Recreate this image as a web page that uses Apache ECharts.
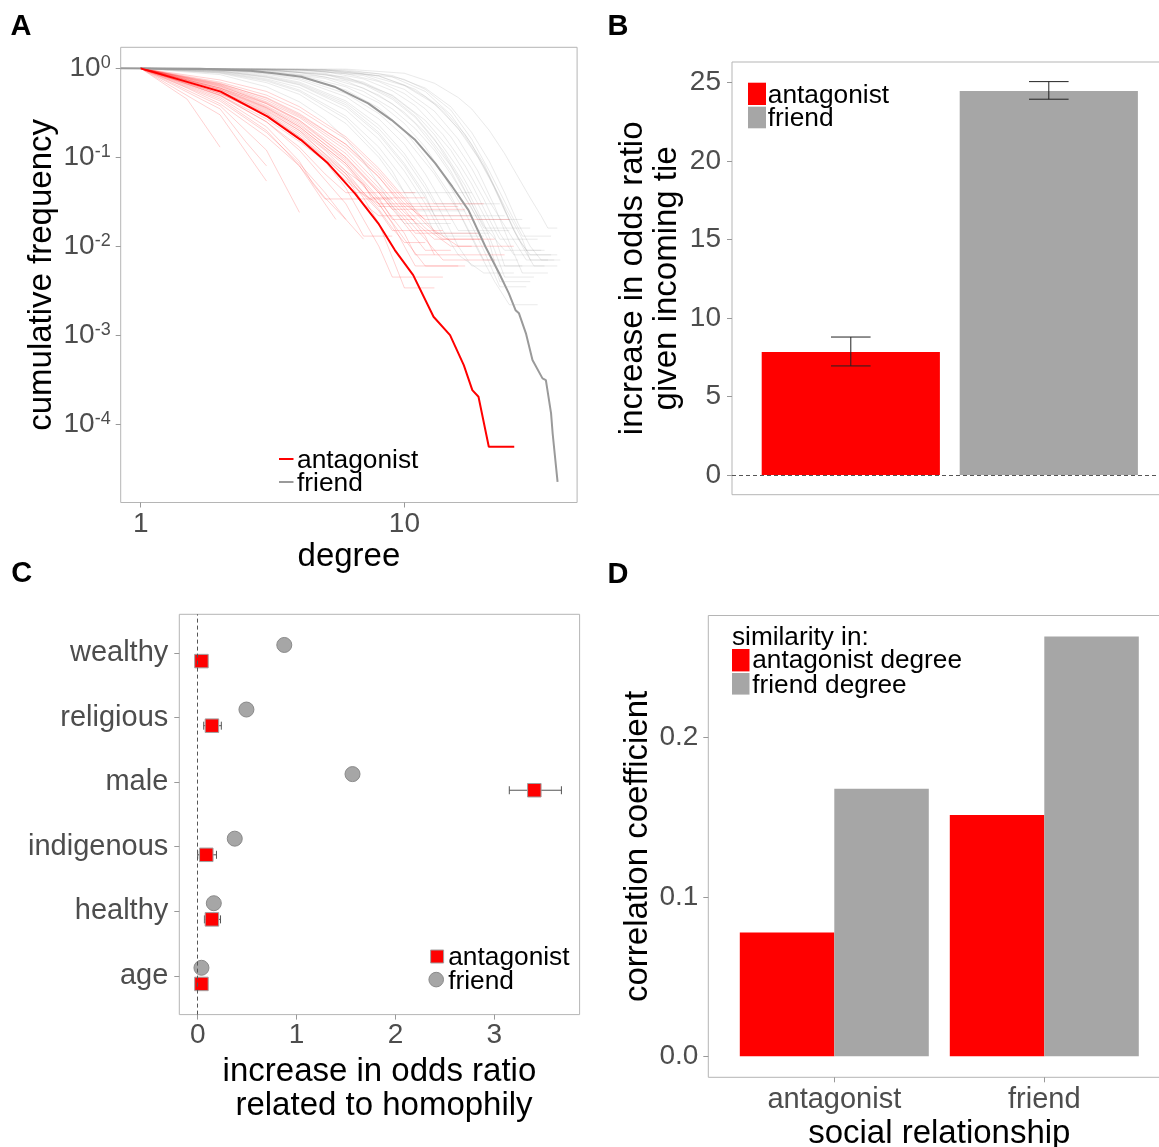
<!DOCTYPE html>
<html>
<head>
<meta charset="utf-8">
<script src="https://cdn.jsdelivr.net/npm/echarts@6/dist/echarts.min.js"></script>
<style>html,body{margin:0;padding:0;background:#fff}#c{width:1159px;height:1147px}</style>
</head>
<body>
<div id="c"></div>
<script>
// ---------- Panel A: cumulative degree distributions ----------
const aXTicks = [1, 10];
const aYTicks = [1, 0.1, 0.01, 0.001, 0.0001];
const antDegree   = [1, 2.01, 3.03, 4.06, 5.13, 6.49, 7.96, 9.2, 10.8, 12.9, 14.9, 16.8, 18.1, 19.1, 20.9, 26.1];
const antCumFreq  = [1, 0.547, 0.286, 0.156, 0.0855, 0.0393, 0.0181, 0.00906, 0.00474, 0.00161, 0.001, 0.000461, 0.000241, 0.000203, 0.0000556, 0.0000556];
const friendDegree  = [0.84, 1.68, 2.61, 3.21, 4.06, 5.43, 7.29, 8.95, 11.0, 13.1, 15.2, 17.5, 20.3, 22.9, 24.9, 26.4, 27.2, 28.9, 30.6, 33.4, 34.4, 36.0, 36.5, 38.1];
const friendCumFreq = [1, 0.991, 0.942, 0.879, 0.805, 0.622, 0.404, 0.262, 0.156, 0.0855, 0.0467, 0.0255, 0.00986, 0.00494, 0.00295, 0.00191, 0.00176, 0.00105, 0.000525, 0.000327, 0.000313, 0.000132, 0.0000785, 0.0000224];
// per-village curves [degree, cumulative frequency]
const antVillageCurves = [
 [[1,1],[1.5,0.45],[2,0.13]],
 [[1,1],[2,0.3],[3,0.054]],
 [[1,1],[2,0.38],[3,0.12],[4,0.024]],
 [[1,1],[2,0.45],[3,0.2],[4,0.08],[5,0.03],[5.5,0.02]],
 [[1,1],[2,0.5],[3,0.25],[4,0.12],[6,0.03],[7,0.013],[9,0.013]],
 [[1,1],[2,0.52],[3,0.3],[4,0.17],[6,0.06],[8,0.025],[9,0.015],[14,0.015]],
 [[1,1],[2,0.58],[3,0.35],[4,0.21],[6,0.08],[8,0.03],[10,0.012],[12,0.006],[16,0.006]],
 [[1,1],[2,0.6],[3,0.4],[4,0.25],[6,0.1],[8,0.04],[10,0.018],[12,0.009],[15,0.009]],
 [[1,1],[2,0.65],[3,0.42],[4,0.28],[6,0.12],[8,0.05],[10,0.024],[13,0.012],[20,0.012]],
 [[1,1],[2,0.68],[3,0.46],[4,0.3],[6,0.14],[8,0.065],[10,0.03],[12,0.02],[25,0.02]],
 [[1,1],[2,0.55],[3,0.33],[4,0.2],[5,0.12],[6,0.07],[7,0.05],[7.5,0.035],[12,0.035]],
 [[1,1],[2,0.47],[3,0.22],[4,0.09],[4.5,0.05],[5,0.034],[9,0.034]],
 [[1,1],[2,0.62],[3,0.38],[4,0.24],[6,0.09],[8,0.035],[9,0.02],[11,0.02]],
 [[1,1],[2,0.56],[3,0.32],[4,0.19],[6,0.07],[7,0.04],[8,0.028],[16,0.028]],
 [[1,1],[2,0.6],[3,0.36],[4,0.22],[6,0.085],[8,0.033],[10,0.014],[11,0.008],[13,0.008]],
 [[1,1],[2,0.66],[3,0.44],[4,0.29],[6,0.13],[8,0.06],[10,0.028],[12,0.016],[15,0.01],[18,0.01]],
 [[1,1],[2,0.5],[3,0.27],[4,0.15],[5,0.09],[6,0.055],[7,0.038],[8,0.03],[20,0.03]],
 [[1,1],[2,0.63],[3,0.41],[4,0.26],[6,0.11],[8,0.045],[10,0.022],[12,0.012],[14,0.007],[22,0.007]],
 [[1,1],[2,0.52],[3,0.29],[4,0.16],[5,0.09],[6,0.045],[7,0.02],[8,0.01],[9,0.0045],[14,0.0045]],
 [[1,1],[1.5,0.6],[2,0.4],[3,0.17],[4,0.08],[5,0.035],[6,0.02]],
 [[1,1],[2,0.74],[3,0.55],[4,0.37],[6,0.17],[8,0.075],[10,0.035],[13,0.015],[16,0.01],[26,0.01]],
 [[1,1],[2,0.57],[3,0.34],[4,0.2],[6,0.065],[7,0.035],[8,0.018],[9,0.0075],[10,0.0034],[13,0.0034]],
 [[1,1],[2,0.6],[3,0.37],[4,0.23],[6,0.095],[8,0.04],[9,0.026],[17,0.026]],
 [[1,1],[2,0.53],[3,0.31],[4,0.18],[6,0.065],[8,0.026],[9,0.016],[10,0.011],[12,0.011]],
 [[1,1],[2,0.7],[3,0.5],[4,0.34],[6,0.16],[8,0.07],[10,0.033],[12,0.018],[14,0.012],[22,0.012]],
 [[1,1],[2,0.43],[3,0.19],[4,0.085],[5,0.04],[6,0.02],[7,0.012]],
 [[1,1],[2,0.64],[3,0.4],[4,0.26],[6,0.1],[8,0.042],[10,0.02],[11,0.014],[19,0.014]],
 [[1,1],[2,0.49],[3,0.25],[4,0.13],[5,0.065],[6,0.04],[11,0.04]],
 [[1,1],[2,0.58],[3,0.36],[4,0.22],[6,0.085],[8,0.03],[9,0.018],[10,0.01],[11,0.006],[17,0.006]],
 [[1,1],[2,0.35],[2.5,0.15],[3,0.08]],
 [[1,1],[2,0.67],[3,0.47],[4,0.31],[6,0.14],[8,0.06],[10,0.026],[12,0.013],[13,0.008],[24,0.008]],
 [[1,1],[2,0.55],[3,0.31],[4,0.17],[5,0.1],[6,0.06],[7,0.03],[8,0.022],[18,0.022]]
];
const friendVillageCurves = [
 [[1,1],[2,0.85],[3,0.62],[4,0.42],[5,0.27],[6,0.16],[7,0.09],[8,0.05],[9,0.028],[10,0.018],[15,0.018]],
 [[1,1],[2,0.9],[3,0.74],[4,0.57],[6,0.29],[8,0.13],[10,0.055],[12,0.024],[13,0.014],[21,0.014]],
 [[1,1],[2,0.94],[3,0.83],[4,0.7],[6,0.43],[8,0.23],[10,0.11],[12,0.05],[14,0.022],[16,0.01],[18,0.006],[28,0.006]],
 [[1,1],[2,0.97],[3,0.9],[4,0.8],[6,0.57],[8,0.36],[10,0.2],[12,0.1],[15,0.037],[18,0.013],[20,0.007],[27,0.007]],
 [[1,1],[3,0.95],[4,0.9],[6,0.72],[8,0.5],[10,0.32],[12,0.19],[15,0.08],[18,0.03],[20,0.017],[24,0.009],[33,0.009]],
 [[1,1],[3,0.98],[5,0.92],[7,0.76],[9,0.56],[11,0.38],[14,0.18],[17,0.08],[20,0.034],[23,0.014],[26,0.008],[36,0.008]],
 [[1,1],[4,0.98],[6,0.93],[8,0.82],[10,0.65],[12,0.48],[14,0.33],[17,0.17],[20,0.08],[24,0.028],[28,0.012],[30,0.007],[37,0.007]],
 [[1,1],[5,0.97],[8,0.87],[10,0.75],[12,0.58],[15,0.34],[18,0.16],[21,0.07],[25,0.025],[28,0.013],[36,0.013]],
 [[1,1],[2,0.92],[3,0.79],[4,0.65],[6,0.37],[8,0.18],[10,0.08],[12,0.035],[14,0.015],[16,0.008],[20,0.005],[26,0.005]],
 [[1,1],[2,0.96],[3,0.88],[4,0.77],[6,0.52],[8,0.31],[10,0.17],[13,0.065],[16,0.025],[19,0.009],[22,0.004],[25,0.0022],[32,0.0022]],
 [[1,1],[2,0.93],[3,0.81],[4,0.68],[6,0.41],[8,0.21],[10,0.1],[12,0.045],[13,0.03],[23,0.03]],
 [[1,1],[3,0.97],[5,0.88],[7,0.7],[9,0.49],[11,0.31],[13,0.18],[16,0.075],[19,0.03],[22,0.013],[24,0.006],[34,0.006]],
 [[1,1],[2,0.88],[3,0.69],[4,0.51],[6,0.24],[8,0.1],[10,0.04],[11,0.025],[17,0.025]],
 [[1,1],[3,0.93],[5,0.77],[7,0.55],[9,0.35],[11,0.21],[13,0.12],[15,0.065],[18,0.027],[21,0.011],[23,0.004],[30,0.004]],
 [[1,1],[4,0.96],[6,0.87],[8,0.71],[10,0.52],[12,0.35],[15,0.17],[18,0.075],[21,0.032],[25,0.014],[29,0.007],[35,0.007]],
 [[1,1],[2,0.91],[3,0.76],[4,0.61],[6,0.34],[8,0.16],[10,0.07],[12,0.03],[14,0.013],[20,0.013]],
 [[1,1],[6,0.98],[10,0.88],[13,0.68],[16,0.47],[18,0.35],[21,0.2],[24,0.11],[27,0.06],[30,0.035],[33,0.022],[35,0.016],[38,0.016]],
 [[1,1],[4,0.97],[7,0.86],[10,0.64],[13,0.4],[16,0.21],[19,0.1],[22,0.045],[25,0.02],[28,0.01],[31,0.006],[38,0.006]],
 [[1,1],[3,0.96],[5,0.85],[7,0.66],[9,0.45],[11,0.28],[14,0.12],[17,0.048],[20,0.018],[22,0.009],[24,0.0045],[31,0.0045]],
 [[1,1],[5,0.96],[9,0.8],[12,0.55],[15,0.3],[18,0.14],[21,0.06],[24,0.025],[27,0.012],[30,0.008],[38,0.008]],
 [[1,1],[2,0.95],[3,0.86],[4,0.74],[6,0.48],[8,0.27],[10,0.14],[12,0.065],[14,0.03],[16,0.015],[25,0.015]],
 [[1,1],[3,0.96],[5,0.86],[7,0.68],[9,0.47],[11,0.29],[13,0.16],[16,0.06],[18,0.03],[20,0.016],[30,0.016]],
 [[1,1],[2,0.89],[3,0.72],[4,0.55],[6,0.27],[8,0.11],[9,0.07],[10,0.04],[18,0.04]],
 [[1,1],[4,0.97],[7,0.83],[10,0.58],[13,0.33],[16,0.16],[19,0.07],[22,0.028],[25,0.011],[28,0.005],[35,0.005]],
 [[1,1],[3,0.94],[5,0.8],[7,0.6],[9,0.4],[11,0.24],[13,0.13],[15,0.07],[17,0.035],[19,0.02],[28,0.02]],
 [[1,1],[5,0.95],[8,0.82],[11,0.58],[14,0.35],[17,0.18],[20,0.085],[23,0.035],[26,0.015],[29,0.009],[34,0.009]],
 [[1,1],[2,0.93],[3,0.8],[4,0.66],[6,0.39],[8,0.19],[10,0.085],[12,0.038],[13,0.022],[24,0.022]],
 [[1,1],[6,0.96],[9,0.83],[12,0.6],[15,0.37],[18,0.19],[21,0.09],[24,0.04],[27,0.018],[30,0.01],[33,0.007],[39,0.007]],
 [[1,1],[2,0.97],[4,0.84],[6,0.62],[8,0.41],[10,0.24],[12,0.13],[14,0.065],[17,0.024],[20,0.009],[23,0.0035],[29,0.0035]],
 [[1,1],[3,0.97],[6,0.8],[9,0.5],[12,0.26],[15,0.12],[18,0.05],[21,0.02],[23,0.012],[32,0.012]]
];

// ---------- Panel B: incoming tie effect ----------
const tieCats = ['antagonist', 'friend'];
const tieOR   = [7.84, 24.47];
const tieLo   = [6.95, 23.94];
const tieHi   = [8.79, 25.06];
const bYTicks = [0, 5, 10, 15, 20, 25];

// ---------- Panel C: homophily ----------
const homCats  = ['age', 'healthy', 'indigenous', 'male', 'religious', 'wealthy'];
const homFriend = [0.038, 0.163, 0.375, 1.566, 0.493, 0.876];
const homAnt    = [0.038, 0.144, 0.087, 3.405, 0.144, 0.038];
const homAntLo  = [0.02, 0.068, 0.0, 3.152, 0.061, 0.02];
const homAntHi  = [0.056, 0.231, 0.19, 3.679, 0.239, 0.056];
const cXTicks = [0, 1, 2, 3];

// ---------- Panel D: degree similarity ----------
const relCats = ['antagonist', 'friend'];
const simAntDegree    = [0.0777, 0.1513];
const simFriendDegree = [0.1677, 0.2632];
const dYTicks = [0, 0.1, 0.2];

// ---------- styling ----------
const FF = "'Liberation Sans', Arial, Helvetica, sans-serif";
const RED = '#ff0000', GRAY = '#a6a6a6', LBL = '#4d4d4d', TICK = '#999999', BORDER = '#b5b5b5';
const L10 = Math.log10;

const gA = {left:120.7, top:47.3, width:456.4, height:455.2};
const gB = {left:732, top:62, width:435.6, height:432.7};
const gC = {left:179.3, top:614.3, width:400.3, height:400.3};
const gD = {left:708.3, top:615.5, width:462, height:461.8};
const grids = [gA, gB, gC, gD].map(g => Object.assign({show:true, borderColor:BORDER, borderWidth:1, backgroundColor:'transparent', containLabel:false, outerBoundsMode:'none'}, g));
const uB = gB.width / 2.2, uD = gD.width / 2.2;

const tickStyle = (vals, show=true) => ({show, customValues: vals, length:5, inside:false, lineStyle:{color:TICK, width:1}});
const nameStyle = {fontSize:33, fontFamily:FF, color:'#000', lineHeight:34};
const baseAxis = {axisLine:{show:false, onZero:false}, splitLine:{show:false}, minorTick:{show:false}};

const xAxes = [
  Object.assign({}, baseAxis, {gridIndex:0, type:'value', min:-0.0758, max:1.655,
    axisTick: tickStyle(aXTicks.map(L10)),
    axisLabel:{customValues: aXTicks.map(L10), formatter: v => String(Math.round(Math.pow(10, v))), fontSize:28, lineHeight:28, color:LBL, fontFamily:FF, margin:8},
    name:'degree', nameLocation:'middle', nameGap:37.5, nameTextStyle:nameStyle}),
  Object.assign({}, baseAxis, {gridIndex:1, type:'value', min:0.4, max:2.6,
    axisTick:{show:false}, axisLabel:{show:false}}),
  Object.assign({}, baseAxis, {gridIndex:2, type:'value', min:-0.186, max:3.863,
    axisTick: tickStyle(cXTicks),
    axisLabel:{customValues:cXTicks, formatter: v => String(v), fontSize:28, lineHeight:28, color:LBL, fontFamily:FF, margin:7},
    name:'increase in odds ratio\n related to homophily', nameLocation:'middle', nameGap:40, nameTextStyle:nameStyle}),
  Object.assign({}, baseAxis, {gridIndex:3, type:'value', min:0.4, max:2.6,
    axisTick: tickStyle([1,2]),
    axisLabel:{customValues:[1,2], formatter: v => relCats[Math.round(v)-1], fontSize:29, lineHeight:29, color:LBL, fontFamily:FF, margin:8},
    name:'social relationship', nameLocation:'middle', nameGap:40, nameTextStyle:nameStyle})
];
const yAxes = [
  Object.assign({}, baseAxis, {gridIndex:0, type:'value', min:-4.881, max:0.2365,
    axisTick: tickStyle(aYTicks.map(L10)),
    axisLabel:{customValues: aYTicks.map(L10), margin:10,
      formatter: v => '{b|10}{s|' + String(Math.round(v)) + '}',
      rich:{ b:{fontSize:28, lineHeight:28, padding:[8.8,0,0,0], verticalAlign:'bottom', color:LBL, fontFamily:FF},
             s:{fontSize:18, lineHeight:23.2, verticalAlign:'top', color:LBL, fontFamily:FF} }},
    name:'cumulative frequency', nameLocation:'middle', nameGap:62, nameTextStyle:nameStyle}),
  Object.assign({}, baseAxis, {gridIndex:1, type:'value', min:-1.253, max:26.31,
    axisTick: tickStyle(bYTicks),
    axisLabel:{customValues:bYTicks, formatter: v => String(v), fontSize:28, color:LBL, fontFamily:FF, margin:11},
    name:'increase in odds ratio\ngiven incoming tie', nameLocation:'middle', nameGap:48.5, nameTextStyle:nameStyle}),
  Object.assign({}, baseAxis, {gridIndex:2, type:'value', min:0.4, max:6.6,
    axisTick: tickStyle([1,2,3,4,5,6]),
    axisLabel:{customValues:[1,2,3,4,5,6], formatter: v => homCats[Math.round(v)-1], fontSize:29, color:LBL, fontFamily:FF, margin:11}}),
  Object.assign({}, baseAxis, {gridIndex:3, type:'value', min:-0.01316, max:0.2764,
    axisTick: tickStyle(dYTicks),
    axisLabel:{customValues:dYTicks, formatter: v => v.toFixed(1), fontSize:28, color:LBL, fontFamily:FF, margin:10},
    name:'correlation coefficient', nameLocation:'middle', nameGap:53, nameTextStyle:nameStyle})
];

const series = [];
// Panel A
friendVillageCurves.forEach(c => series.push({type:'line', xAxisIndex:0, yAxisIndex:0, silent:true, symbol:'none', z:1,
  data: c.map(p => [L10(p[0]), L10(p[1])]), lineStyle:{color:'rgba(150,150,150,0.2)', width:1}}));
antVillageCurves.forEach(c => series.push({type:'line', xAxisIndex:0, yAxisIndex:0, silent:true, symbol:'none', z:2,
  data: c.map(p => [L10(p[0]), L10(p[1])]), lineStyle:{color:'rgba(255,0,0,0.18)', width:1}}));
series.push({type:'line', name:'friend', xAxisIndex:0, yAxisIndex:0, symbol:'none', z:3,
  data: friendDegree.map((d,i) => [L10(d), L10(friendCumFreq[i])]), lineStyle:{color:'#9a9a9a', width:2}});
series.push({type:'line', name:'antagonist', xAxisIndex:0, yAxisIndex:0, symbol:'none', z:4,
  data: antDegree.map((d,i) => [L10(d), L10(antCumFreq[i])]), lineStyle:{color:RED, width:2}});

// Panel B
series.push({type:'bar', xAxisIndex:1, yAxisIndex:1, barWidth:0.9*uB, z:2,
  data: tieOR.map((v,i) => ({value:[i+1, v], itemStyle:{color: i===0 ? RED : GRAY}})),
  markLine:{silent:true, symbol:'none', label:{show:false}, lineStyle:{type:[4,3], color:'#555', width:1}, data:[{yAxis:0}]}});
series.push({type:'custom', xAxisIndex:1, yAxisIndex:1, z:5,
  data: tieLo.map((lo,i) => [i+1, lo, tieHi[i]]),
  renderItem: (params, api) => {
    const x = api.value(0), lo = api.coord([x, api.value(1)]), hi = api.coord([x, api.value(2)]);
    const hw = api.size([0.2, 0])[0] / 2;
    const st = {stroke:'#222', lineWidth:1, fill:null};
    return {type:'group', children:[
      {type:'line', shape:{x1:lo[0], y1:lo[1], x2:hi[0], y2:hi[1]}, style:st},
      {type:'line', shape:{x1:lo[0]-hw, y1:lo[1], x2:lo[0]+hw, y2:lo[1]}, style:st},
      {type:'line', shape:{x1:hi[0]-hw, y1:hi[1], x2:hi[0]+hw, y2:hi[1]}, style:st}]};
  }});

// Panel C
const dodge = 0.125;
series.push({type:'custom', xAxisIndex:2, yAxisIndex:2, z:2,
  data: homAntLo.map((lo,i) => [lo, homAntHi[i], i+1-dodge]),
  renderItem: (params, api) => {
    const y = api.value(2), lo = api.coord([api.value(0), y]), hi = api.coord([api.value(1), y]);
    const st = {stroke:'#555', lineWidth:1, fill:null};
    return {type:'group', children:[
      {type:'line', shape:{x1:lo[0], y1:lo[1], x2:hi[0], y2:hi[1]}, style:st},
      {type:'line', shape:{x1:lo[0], y1:lo[1]-4, x2:lo[0], y2:lo[1]+4}, style:st},
      {type:'line', shape:{x1:hi[0], y1:hi[1]-4, x2:hi[0], y2:hi[1]+4}, style:st}]};
  },
  markLine:{silent:true, symbol:'none', label:{show:false}, lineStyle:{type:[4,3], color:'#555', width:1}, data:[{xAxis:0}]}});
series.push({type:'scatter', name:'friend', xAxisIndex:2, yAxisIndex:2, z:3, symbol:'circle', symbolSize:15,
  data: homFriend.map((v,i) => [v, i+1+dodge]), itemStyle:{color:GRAY, borderColor:'#8a8a8a', borderWidth:1, opacity:1}});
series.push({type:'scatter', name:'antagonist', xAxisIndex:2, yAxisIndex:2, z:4, symbol:'rect', symbolSize:13.5,
  data: homAnt.map((v,i) => [v, i+1-dodge]), itemStyle:{color:RED, borderColor:'#a0a0a0', borderWidth:1, opacity:1}});

// Panel D
series.push({type:'bar', name:'antagonist degree', xAxisIndex:3, yAxisIndex:3, barWidth:0.45*uD, barGap:'0%',
  data: simAntDegree.map((v,i) => [i+1, v]), itemStyle:{color:RED}});
series.push({type:'bar', name:'friend degree', xAxisIndex:3, yAxisIndex:3, barWidth:0.45*uD, barGap:'0%',
  data: simFriendDegree.map((v,i) => [i+1, v]), itemStyle:{color:GRAY}});

// ---------- annotations: panel letters & legends ----------
const txt = (text, x, y, size, opts={}) => ({type:'text', x, y, silent:true, z:100,
  style:Object.assign({text, fill:'#000', font:(opts.bold?'bold ':'') + size + 'px ' + FF, align:'left', verticalAlign:'middle'}, opts.style||{})});
const graphic = [
  txt('A', 10.6, 27, 29, {bold:true}), txt('B', 607.4, 26.7, 29, {bold:true}),
  txt('C', 11.3, 574, 29, {bold:true}), txt('D', 607.5, 574.5, 29, {bold:true}),
  // A legend
  {type:'line', shape:{x1:279, y1:459, x2:293.5, y2:459}, style:{stroke:RED, lineWidth:2}, z:100},
  {type:'line', shape:{x1:279, y1:482, x2:293.5, y2:482}, style:{stroke:'#9a9a9a', lineWidth:2}, z:100},
  txt('antagonist', 297, 461, 26.3), txt('friend', 297, 484, 26.3),
  // B legend
  {type:'rect', shape:{x:748, y:82.7, width:18, height:22.3}, style:{fill:RED}, z:100},
  {type:'rect', shape:{x:748, y:106.7, width:18, height:21.6}, style:{fill:GRAY}, z:100},
  txt('antagonist', 767.8, 96, 26.3), txt('friend', 767.8, 119, 26.3),
  // C legend
  {type:'rect', shape:{x:430.6, y:950, width:13, height:13}, style:{fill:RED, stroke:'#a0a0a0', lineWidth:1}, z:100},
  {type:'circle', shape:{cx:436.2, cy:979.6, r:7.3}, style:{fill:GRAY, stroke:'#8a8a8a', lineWidth:1}, z:100},
  txt('antagonist', 448.2, 957.5, 26.3), txt('friend', 448.2, 981.5, 26.3),
  // D legend
  txt('similarity in:', 732, 637.6, 26.2),
  {type:'rect', shape:{x:732, y:649, width:17.5, height:22.4}, style:{fill:RED}, z:100},
  {type:'rect', shape:{x:732, y:673, width:17.5, height:21.6}, style:{fill:GRAY}, z:100},
  txt('antagonist degree', 752.3, 661, 26.2), txt('friend degree', 752.3, 685.5, 26.2)
];

const chart = echarts.init(document.getElementById('c'), null, {renderer:'canvas'});
chart.setOption({
  animation:false,
  backgroundColor:'#ffffff',
  textStyle:{fontFamily:FF},
  grid:grids, xAxis:xAxes, yAxis:yAxes, series, graphic
});
</script>
</body>
</html>
